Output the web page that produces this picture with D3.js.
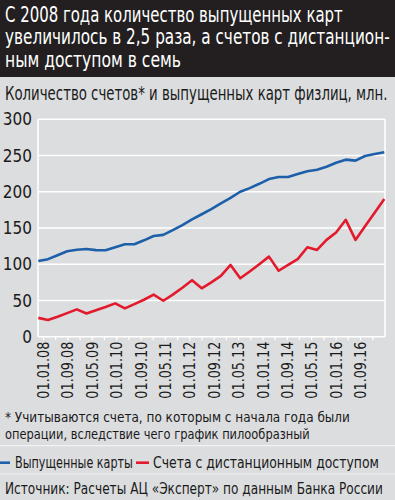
<!DOCTYPE html>
<html>
<head>
<meta charset="utf-8">
<script src="https://cdn.jsdelivr.net/npm/d3@7"></script>
<style>
  html, body { margin: 0; padding: 0; overflow: hidden; background: #dcdddf; }
  svg { display: block; }
  text { font-family: "Liberation Sans Narrow", "DejaVu Sans Condensed", "Roboto", sans-serif; }
</style>
</head>
<body>
<div id="chart-area"></div>
<script>
const WIDTH = 395, HEIGHT = 500;
const BG = "#dcdddf";
const BLUE = "#1d5fa9", RED = "#e21a2c";
const INK = "#1a1a1a";

// quarterly observations, 01.10.07 .. 01.10.16
const startDate = new Date(2007, 9, 1), endDate = new Date(2016, 9, 1);
const dates = d3.timeMonth.every(3).range(startDate, new Date(2016, 10, 1));

// issued cards, mln
const cards = [104.5, 107, 112.5, 118, 120, 121, 119.5, 119.3, 123.5, 127.5,
  127.5, 133, 139, 140.5, 147, 154, 162, 169, 176, 184,
  191.5, 200, 205, 211, 217.5, 220.4, 220.4, 224.5, 228.4, 230.5,
  234.5, 240, 244.3, 243, 249.4, 252, 254.4];

// accounts with remote access, mln
const remote = [26, 23, 27.5, 32.5, 37.7, 32, 36.5, 41, 46, 39,
  45, 51, 58, 49.6, 58, 67.5, 78, 66.8, 75, 84,
  99, 80.6, 90, 100, 110.5, 91, 99, 107, 123.5, 119.8,
  133.6, 143.8, 161.3, 133.6, 152.4, 171.2, 190];

const tickLabels = ["01.01.08", "01.09.08", "01.05.09", "01.01.10", "01.09.10", "01.05.11", "01.01.12",
  "01.09.12", "01.05.13", "01.01.14", "01.09.14", "01.05.15", "01.01.16", "01.09.16"];
const yTicks = [0, 50, 100, 150, 200, 250, 300];

const titleLines = ["С 2008 года количество выпущенных карт",
  "увеличилось в 2,5 раза, а счетов с дистанцион-",
  "ным доступом в семь"];
const subtitle = "Количество счетов* и выпущенных карт физлиц, млн.";
const noteLines = ["* Учитываются счета, по которым с начала года были",
  "операции, вследствие чего график пилообразный"];
const legendNames = ["Выпущенные карты", "Счета с дистанционным доступом"];
const source = "Источник: Расчеты АЦ «Эксперт» по данным Банка России";

const plot = {left: 38, right: 385, top: 119.3, bottom: 336.7};

const svg = d3.select("#chart-area").append("svg")
    .attr("width", WIDTH)
    .attr("height", HEIGHT);

svg.append("rect").attr("width", WIDTH).attr("height", HEIGHT).attr("fill", BG);

// header
svg.append("rect").attr("width", WIDTH).attr("height", 77).attr("fill", "#231f20");
const titleWidths = [338, 385, 176];
titleLines.forEach((t, i) => {
    addText(svg, t, 5, 21.7 + i * 22.5, 20.5, "#fff", titleWidths[i]);
});

addText(svg, subtitle, 5, 99.5, 20, INK, 383);

// scales
const x = d3.scaleTime().domain([startDate, endDate]).range([plot.left + 0.3, plot.right - 0.7]);
const y = d3.scaleLinear().domain([0, 300]).range([plot.bottom, plot.top]);
const xLabel = d3.scalePoint().domain(tickLabels).range([43.5, 360.5]);
const xMinor = d3.scaleLinear().domain([0, tickLabels.length - 1]).range([43.5, 360.5]);

// grid
svg.append("g").selectAll("line").data(yTicks).join("line")
    .attr("x1", plot.left).attr("x2", plot.right)
    .attr("y1", d => y(d)).attr("y2", d => y(d))
    .attr("stroke", "#fff").attr("stroke-width", 1.6);
svg.append("g").selectAll("line").data([plot.left, plot.right]).join("line")
    .attr("x1", d => d).attr("x2", d => d)
    .attr("y1", plot.top).attr("y2", plot.bottom)
    .attr("stroke", "#fff").attr("stroke-width", 1.6);

// small ticks under the baseline
svg.append("g").selectAll("line").data(d3.range(0, 13.51, 0.5)).join("line")
    .attr("x1", d => xMinor(d)).attr("x2", d => xMinor(d))
    .attr("y1", plot.bottom).attr("y2", plot.bottom + 3.5)
    .attr("stroke", "#fff").attr("stroke-width", 1.2);

// y labels
svg.append("g").selectAll("text").data(yTicks).join("text")
    .attr("x", 32).attr("y", d => y(d))
    .attr("dy", "0.36em")
    .attr("text-anchor", "end")
    .attr("font-size", "17px")
    .attr("fill", INK)
    .text(d => d);

// x labels, rotated and squeezed to the reference length
svg.append("g").selectAll("text").data(tickLabels).join("text")
    .attr("dy", "0.36em")
    .attr("text-anchor", "end")
    .attr("font-size", "15.5px")
    .attr("fill", INK)
    .text(d => d)
    .each(function(d) {
        const k = 57 / this.getComputedTextLength();
        d3.select(this).attr("transform",
            `translate(${xLabel(d)},${plot.bottom + 5}) rotate(-90) scale(${k},1)`);
    });

// series
const line = d3.line().x((d, i) => x(dates[i])).y(d => y(d));
[[cards, BLUE], [remote, RED]].forEach(([s, c]) => {
    svg.append("path").datum(s)
        .attr("d", line)
        .attr("fill", "none")
        .attr("stroke", c)
        .attr("stroke-width", 2.6)
        .attr("stroke-linejoin", "round");
});

// footnote
addText(svg, noteLines[0], 5, 422.3, 14.5, INK, 345);
addText(svg, noteLines[1], 5, 439, 14.5, INK, 305);

// separators
[445.7, 474].forEach(yy => {
    svg.append("line").attr("x1", 0).attr("x2", WIDTH).attr("y1", yy).attr("y2", yy)
        .attr("stroke", "#f2f2f2").attr("stroke-width", 1.2);
});

// legend
const legendX = [[0, 10, 15, 118], [136, 149, 153, 226]];
legendNames.forEach((n, i) => {
    const [a, b, tx, tw] = legendX[i];
    svg.append("line").attr("x1", a).attr("x2", b).attr("y1", 462.7).attr("y2", 462.7)
        .attr("stroke", i === 0 ? BLUE : RED).attr("stroke-width", 2.6);
    addText(svg, n, tx, 468.3, 16, INK, tw);
});

addText(svg, source, 5, 494, 16, INK, 378);

// text squeezed horizontally to a given width
function addText(to, label, x, y, size, color, width) {
    let t = to.append("text")
        .attr("fill", color)
        .attr("font-size", `${size}px`)
        .text(label);
    const k = width ? width / t.node().getComputedTextLength() : 1;
    t.attr("transform", `translate(${x},${y}) scale(${k},1)`);
    return t;
}
</script>
</body>
</html>
